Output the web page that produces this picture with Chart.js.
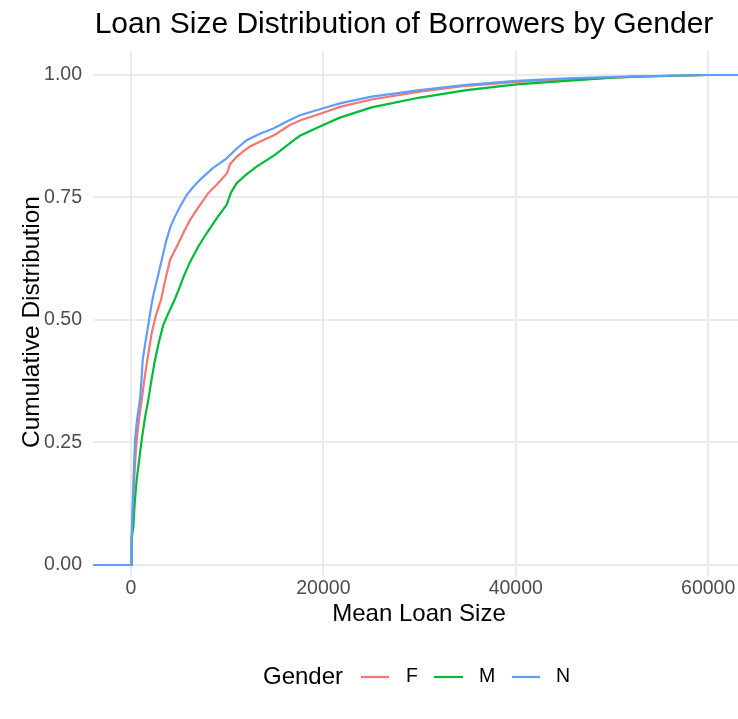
<!DOCTYPE html>
<html>
<head>
<meta charset="utf-8">
<title>Loan Size Distribution of Borrowers by Gender</title>
<script src="https://cdn.jsdelivr.net/npm/chart.js@4.4.1/dist/chart.umd.min.js"></script>
<style>
  html, body { margin: 0; padding: 0; background: #ffffff; }
  #wrap { width: 738px; height: 719px; position: relative; }
</style>
</head>
<body>
<div id="wrap"><canvas id="chart" width="738" height="719"></canvas></div>
<script>
// Empirical cumulative distribution of mean loan size, one curve per gender.
const genders = ['F', 'M', 'N'];

const loanF = [-10000, 70, 70, 150, 242, 400, 589, 850, 1108, 1400, 1697, 2147, 2600, 3117, 3600, 4052, 4917, 5500, 6130, 7000, 8034, 9000, 10000, 10300, 10982, 11600, 12364, 13600, 14961, 16519, 17558, 19980, 21714, 25007, 30026, 34878, 40073, 45268, 52195, 59948, 90000];
const cdfF  = [0, 0, 0.054, 0.09, 0.133, 0.20, 0.255, 0.30, 0.337, 0.38, 0.418, 0.473, 0.51, 0.541, 0.585, 0.622, 0.656, 0.68, 0.704, 0.73, 0.759, 0.778, 0.800, 0.818, 0.833, 0.843, 0.854, 0.866, 0.878, 0.898, 0.907, 0.923, 0.935, 0.950, 0.966, 0.978, 0.986, 0.991, 0.996, 1.0, 1.0];

const loanM = [-10000, 70, 70, 150, 242, 400, 589, 850, 1108, 1450, 1800, 2150, 2494, 2900, 3355, 3800, 4225, 4571, 5022, 5500, 6130, 7000, 7861, 9000, 9939, 10400, 10982, 12000, 13060, 14961, 16865, 17558, 19980, 21714, 25007, 30026, 34878, 40073, 45268, 50460, 55000, 59948, 90000];
const cdfM  = [0, 0, 0.054, 0.065, 0.078, 0.13, 0.173, 0.215, 0.255, 0.30, 0.337, 0.38, 0.418, 0.455, 0.49, 0.51, 0.528, 0.543, 0.565, 0.59, 0.618, 0.65, 0.677, 0.71, 0.735, 0.76, 0.779, 0.797, 0.813, 0.837, 0.866, 0.876, 0.898, 0.913, 0.934, 0.954, 0.969, 0.981, 0.988, 0.995, 0.998, 1.0, 1.0];

const loanN = [-10000, 70, 70, 150, 250, 416, 650, 935, 1100, 1212, 1500, 1800, 2078, 2317, 2800, 3190, 3636, 4100, 4571, 5200, 5784, 6400, 7169, 8500, 9939, 11000, 12017, 13400, 14785, 16519, 17558, 19980, 21714, 25007, 30026, 34878, 40073, 45268, 52195, 59948, 90000];
const cdfN  = [0, 0, 0.054, 0.11, 0.17, 0.255, 0.30, 0.337, 0.38, 0.418, 0.455, 0.49, 0.525, 0.55, 0.59, 0.622, 0.66, 0.69, 0.711, 0.735, 0.755, 0.77, 0.786, 0.81, 0.83, 0.85, 0.867, 0.88, 0.891, 0.908, 0.918, 0.932, 0.942, 0.956, 0.969, 0.980, 0.988, 0.993, 0.997, 1.0, 1.0];

const xTickValues = [0, 20000, 40000, 60000];
const yTickValues = [0, 0.25, 0.5, 0.75, 1.0];

const titleText = 'Loan Size Distribution of Borrowers by Gender';
const xTitle = 'Mean Loan Size';
const yTitle = 'Cumulative Distribution';
const legendTitle = 'Gender';

const palette = { F: '#F8766D', M: '#00BA38', N: '#619CFF' };
const FONT = '"Liberation Sans", Arial, Helvetica, sans-serif';

const pairs = (xs, ys) => xs.map((x, i) => ({ x: x, y: ys[i] }));
const series = { F: pairs(loanF, cdfF), M: pairs(loanM, cdfM), N: pairs(loanN, cdfN) };

// Titles and the horizontal legend along the bottom.
const textPlugin = {
  id: 'textPlugin',
  afterDraw(chart) {
    const ctx = chart.ctx;
    ctx.save();

    ctx.fillStyle = '#000000';
    ctx.font = '30px ' + FONT;
    ctx.textAlign = 'center';
    ctx.textBaseline = 'alphabetic';
    ctx.fillText(titleText, 404, 33);

    ctx.font = '24px ' + FONT;
    ctx.fillText(xTitle, 419, 621);

    ctx.save();
    ctx.translate(38.5, 322);
    ctx.rotate(-Math.PI / 2);
    ctx.font = '24.5px ' + FONT;
    ctx.fillText(yTitle, 0, 0);
    ctx.restore();

    // legend
    const ly = 677;
    ctx.textAlign = 'left';
    ctx.textBaseline = 'middle';
    ctx.font = '24px ' + FONT;
    ctx.fillText(legendTitle, 263, ly);
    const keys = [
      { g: 'F', x0: 361, x1: 389, tx: 406 },
      { g: 'M', x0: 434, x1: 463, tx: 479 },
      { g: 'N', x0: 512, x1: 540, tx: 556 }
    ];
    ctx.font = '19.5px ' + FONT;
    keys.forEach(k => {
      ctx.strokeStyle = palette[k.g];
      ctx.lineWidth = 2.2;
      ctx.beginPath();
      ctx.moveTo(k.x0, ly);
      ctx.lineTo(k.x1, ly);
      ctx.stroke();
      ctx.fillStyle = '#000000';
      ctx.fillText(k.g, k.tx, ly);
    });
    ctx.restore();
  }
};

const orderOf = { F: 2, M: 1, N: 0 };

new Chart(document.getElementById('chart'), {
  type: 'line',
  data: {
    datasets: genders.map(g => ({
      label: g,
      data: series[g],
      borderColor: palette[g],
      backgroundColor: palette[g],
      borderWidth: 2.2,
      pointRadius: 0,
      tension: 0,
      fill: false,
      order: orderOf[g]
    }))
  },
  options: {
    responsive: false,
    animation: false,
    devicePixelRatio: 1,
    layout: { padding: { top: 50.5, left: 0, right: 0, bottom: 0 } },
    plugins: {
      legend: { display: false },
      title: { display: false },
      tooltip: { enabled: false }
    },
    scales: {
      x: {
        type: 'linear',
        min: -3950,
        max: 63100,
        border: { display: false },
        grid: { color: '#EBEBEB', lineWidth: 2, drawTicks: false },
        afterBuildTicks: s => { s.ticks = xTickValues.map(v => ({ value: v })); },
        afterFit: s => { s.height = 142; s.paddingLeft = 0; s.paddingRight = 0; },
        ticks: {
          padding: 0,
          color: '#4D4D4D',
          font: { family: FONT, size: 19.5 },
          maxRotation: 0,
          autoSkip: false,
          callback: v => String(v)
        }
      },
      y: {
        type: 'linear',
        min: -0.0245,
        max: 1.05,
        border: { display: false },
        grid: { color: '#EBEBEB', lineWidth: 2, drawTicks: false },
        afterBuildTicks: s => { s.ticks = yTickValues.map(v => ({ value: v })); },
        afterFit: s => { s.width = 93; s.paddingTop = 0; s.paddingBottom = 0; },
        ticks: {
          padding: 11,
          color: '#4D4D4D',
          font: { family: FONT, size: 19.5 },
          autoSkip: false,
          callback: v => Number(v).toFixed(2)
        }
      }
    }
  },
  plugins: [textPlugin]
});
</script>
</body>
</html>
